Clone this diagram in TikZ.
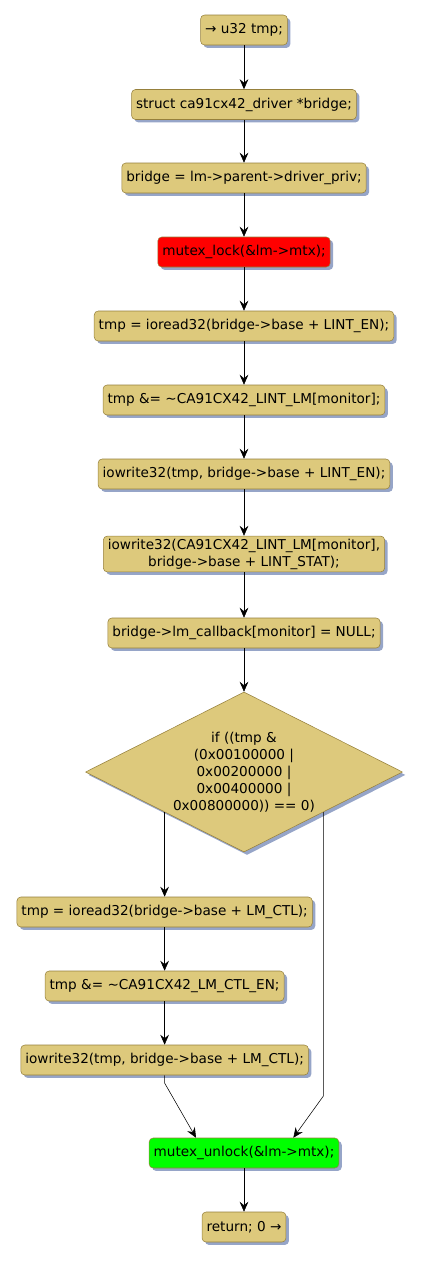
\documentclass[tikz,border=0pt]{standalone}
\usepackage{fontspec}
\setmainfont{DejaVu Sans}
\usetikzlibrary{arrows.meta,shapes.geometric,shadows}
\definecolor{boxfill}{RGB}{221,201,124}
\definecolor{boxline}{RGB}{150,128,60}
\definecolor{shadowblue}{RGB}{150,165,200}
\begin{document}
\begin{tikzpicture}[x=0.75pt, y=-0.75pt, font=\fontsize{10.2}{12.75}\selectfont, line join=round, >={Stealth[length=7.5pt,width=6.5pt,inset=2.6pt]},
    act/.style={draw=boxline, fill=boxfill, rounded corners=3pt, minimum height=22.5pt, inner xsep=3.4pt, inner ysep=2pt, align=center,
      drop shadow={shadow xshift=2.2pt, shadow yshift=-2.2pt, fill=shadowblue, opacity=1}},
    cond/.style={diamond, draw=boxline, fill=boxfill, inner sep=0pt, minimum width=237.75pt, minimum height=120pt,
      drop shadow={shadow xshift=2.2pt, shadow yshift=-2.2pt, fill=shadowblue, opacity=1}}]
    \useasboundingbox (0,0) rectangle (422,1261);
    \node[act] (start) at (244,30) {→ u32 tmp;};
    \node[act] (decl) at (244,104.5) {struct ca91cx42\_driver *bridge;};
    \node[act] (getbr) at (244,178) {bridge = lm->parent->driver\_priv;};
    \node[act, fill=red] (lock) at (244,252) {mutex\_lock(\&lm->mtx);};
    \node[act] (rden) at (244,326) {tmp = ioread32(bridge->base + LINT\_EN);};
    \node[act] (mask) at (244,400) {tmp \&= \char`\~CA91CX42\_LINT\_LM[monitor];};
    \node[act] (wren) at (244,474) {iowrite32(tmp, bridge->base + LINT\_EN);};
    \node[act] (wrstat) at (244,554) {iowrite32(CA91CX42\_LINT\_LM[monitor],\\bridge->base + LINT\_STAT);};
    \node[act] (clrcb) at (244,633) {bridge->lm\_callback[monitor] = NULL;};
    \node[cond, label={[align=center, inner sep=0pt]center:if ((tmp \&\\(0x00100000 |\\0x00200000 |\\0x00400000 |\\0x00800000)) == 0)}] (test) at (244,772) {};
    \node[act] (rdctl) at (test.south west |- 0,912) {tmp = ioread32(bridge->base + LM\_CTL);};
    \node[act] (clrctl) at (rdctl |- 0,986) {tmp \&= \char`\~CA91CX42\_LM\_CTL\_EN;};
    \node[act] (wrctl) at (rdctl |- 0,1060) {iowrite32(tmp, bridge->base + LM\_CTL);};
    \node[act, fill=green] (unlock) at (244,1153) {mutex\_unlock(\&lm->mtx);};
    \node[act] (stop) at (244,1227) {return; 0 →};
    \draw[->] (start) -- (decl);
    \draw[->] (decl) -- (getbr);
    \draw[->] (getbr) -- (lock);
    \draw[->] (lock) -- (rden);
    \draw[->] (rden) -- (mask);
    \draw[->] (mask) -- (wren);
    \draw[->] (wren) -- (wrstat);
    \draw[->] (wrstat) -- (clrcb);
    \draw[->] (clrcb) -- (test);
    \draw[->] (test.south west) -- (rdctl);
    \draw[->] (rdctl) -- (clrctl);
    \draw[->] (clrctl) -- (wrctl);
    \draw[->] (wrctl) -- ++(0,23) -- ([xshift=-36pt]unlock.north);
    \draw[->] (test.south east) -- (test.south east |- 0,1096) -- ([xshift=37pt]unlock.north);
    \draw[->] (unlock) -- (stop);
\end{tikzpicture}
\end{document}
